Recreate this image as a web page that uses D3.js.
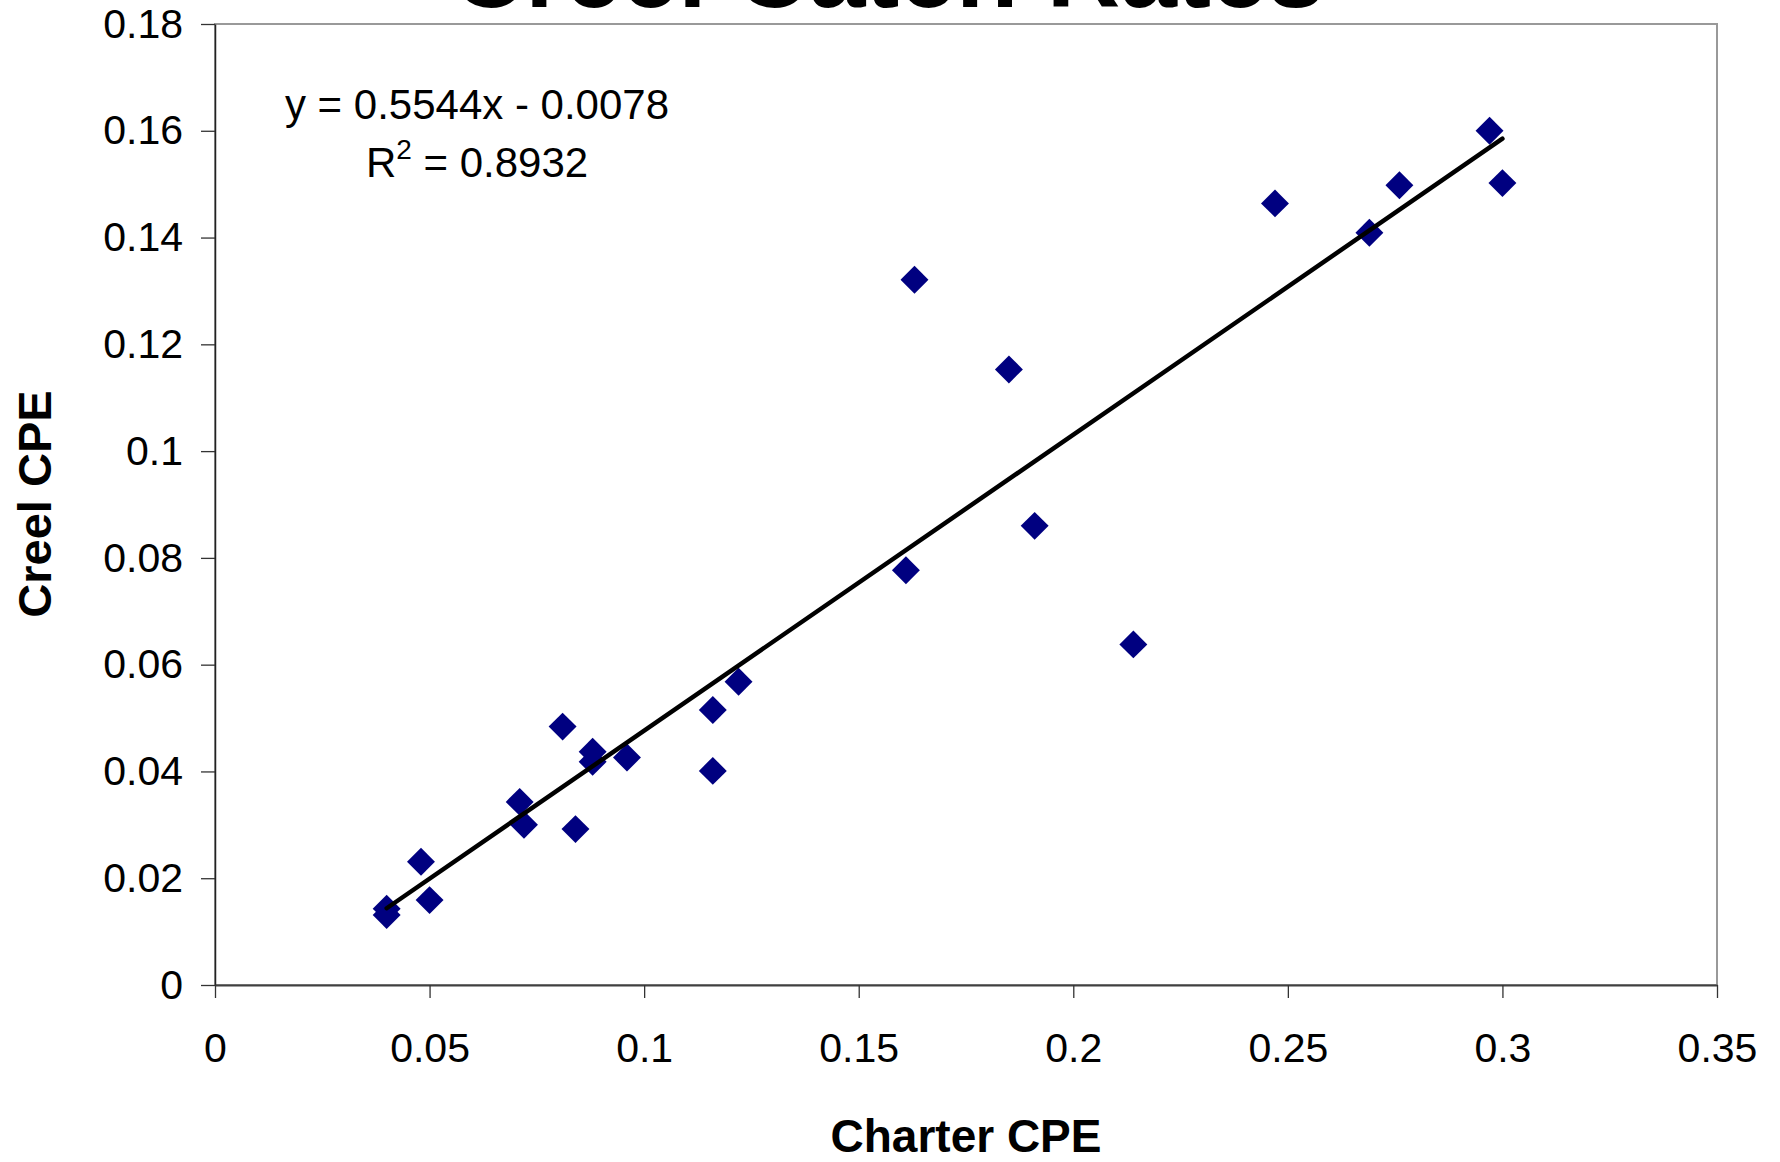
<!DOCTYPE html>
<html>
<head>
<meta charset="utf-8">
<script src="https://cdn.jsdelivr.net/npm/d3@7"></script>
<style>
  body { margin: 0; background: #fff; }
  text { font-family: "Liberation Sans", Arial, sans-serif; }
</style>
</head>
<body>
<div id="chart"></div>
<script>
// data: charter vs creel catch per effort
const charterCPE = [0.040, 0.040, 0.048, 0.050, 0.071, 0.072, 0.081, 0.084, 0.088, 0.088, 0.096, 0.116,
                    0.116, 0.122, 0.161, 0.163, 0.185, 0.191, 0.214, 0.247, 0.269, 0.276, 0.297, 0.300];
const creelCPE = [0.0143, 0.0131, 0.0231, 0.0159, 0.0343, 0.0300, 0.0484, 0.0292, 0.0437, 0.0418, 0.0426, 0.0515,
                  0.0401, 0.0568, 0.0777, 0.1321, 0.1153, 0.0860, 0.0638, 0.1464, 0.1409, 0.1498, 0.1600, 0.1502];

// linear trendline as printed on the chart
const slope = 0.5544;
const intercept = -0.0078;
const rSquared = 0.8932;

const xTicks = [0, 0.05, 0.1, 0.15, 0.2, 0.25, 0.3, 0.35];
const yTicks = [0, 0.02, 0.04, 0.06, 0.08, 0.1, 0.12, 0.14, 0.16, 0.18];

const width = 1780, height = 1162;
const plotL = 215, plotR = 1717, plotT = 24, plotB = 985;

const svg = d3.select("#chart")
    .append("svg")
    .attr("width", width)
    .attr("height", height);

svg.append("rect").attr("width", width).attr("height", height).attr("fill", "#fff");

const x = d3.scaleLinear().domain([0, 0.35]).range([plotL, plotR]);
const y = d3.scaleLinear().domain([0, 0.18]).range([plotB, plotT]);

const fmt = d => String(+d.toFixed(2));

// plot area border (top + right show as grey)
svg.append("rect")
    .attr("x", plotL).attr("y", plotT)
    .attr("width", plotR - plotL).attr("height", plotB - plotT)
    .attr("fill", "none")
    .attr("stroke", "#999")
    .attr("stroke-width", 2);

// y axis
const yAxis = svg.append("g")
    .attr("transform", "translate(" + plotL + ",0)")
    .call(d3.axisLeft(y).tickValues(yTicks).tickFormat(fmt).tickSize(14).tickSizeOuter(0).tickPadding(18));
yAxis.select(".domain").attr("stroke", "#222").attr("stroke-width", 1.5);
yAxis.selectAll(".tick line").attr("stroke", "#333").attr("stroke-width", 1.3);
yAxis.selectAll(".tick text")
    .attr("fill", "#000")
    .style("font-size", "41px")
    .style("font-family", "'Liberation Sans', Arial, sans-serif");

// x axis
const xAxis = svg.append("g")
    .attr("transform", "translate(0," + plotB + ")")
    .call(d3.axisBottom(x).tickValues(xTicks).tickFormat(fmt).tickSize(13).tickSizeOuter(0).tickPadding(35));
xAxis.select(".domain").attr("stroke", "#404040").attr("stroke-width", 2.2);
xAxis.selectAll(".tick line").attr("stroke", "#333").attr("stroke-width", 1.3);
xAxis.selectAll(".tick text")
    .attr("fill", "#000")
    .style("font-size", "41px")
    .style("font-family", "'Liberation Sans', Arial, sans-serif");

// points as navy diamonds
const diamond = d3.symbol().type(d3.symbolSquare).size(390);
svg.append("g")
    .selectAll("path")
    .data(charterCPE.map((c, i) => ({ x: c, y: creelCPE[i] })))
    .join("path")
    .attr("d", diamond)
    .attr("transform", d => "translate(" + x(d.x) + "," + y(d.y) + ") rotate(45)")
    .attr("fill", "#000080");

// trendline across the data range
const xExt = d3.extent(charterCPE);
svg.append("line")
    .attr("x1", x(xExt[0])).attr("y1", y(slope * xExt[0] + intercept))
    .attr("x2", x(xExt[1])).attr("y2", y(slope * xExt[1] + intercept))
    .attr("stroke", "#000")
    .attr("stroke-width", 4.5)
    .attr("stroke-linecap", "round");

// equation label
svg.append("text")
    .attr("x", 477).attr("y", 119)
    .attr("text-anchor", "middle")
    .style("font-size", "42px")
    .text("y = " + slope + "x - " + Math.abs(intercept).toFixed(4));
const r2 = svg.append("text")
    .attr("x", 477).attr("y", 177)
    .attr("text-anchor", "middle")
    .style("font-size", "42px");
r2.append("tspan").text("R");
r2.append("tspan").attr("dy", -18).style("font-size", "28px").text("2");
r2.append("tspan").attr("dy", 18).text(" = " + rSquared);

// title (clipped at top like the original)
svg.append("text")
    .attr("x", 888).attr("y", 7)
    .attr("text-anchor", "middle")
    .style("font-size", "102px")
    .style("font-weight", "bold")
    .text("Creel Catch Rates");

// axis titles
svg.append("text")
    .attr("x", 966).attr("y", 1152)
    .attr("text-anchor", "middle")
    .style("font-size", "46px")
    .style("font-weight", "bold")
    .text("Charter CPE");

svg.append("text")
    .attr("transform", "translate(51,504) rotate(-90)")
    .attr("text-anchor", "middle")
    .style("font-size", "47px")
    .style("font-weight", "bold")
    .text("Creel CPE");
</script>
</body>
</html>
